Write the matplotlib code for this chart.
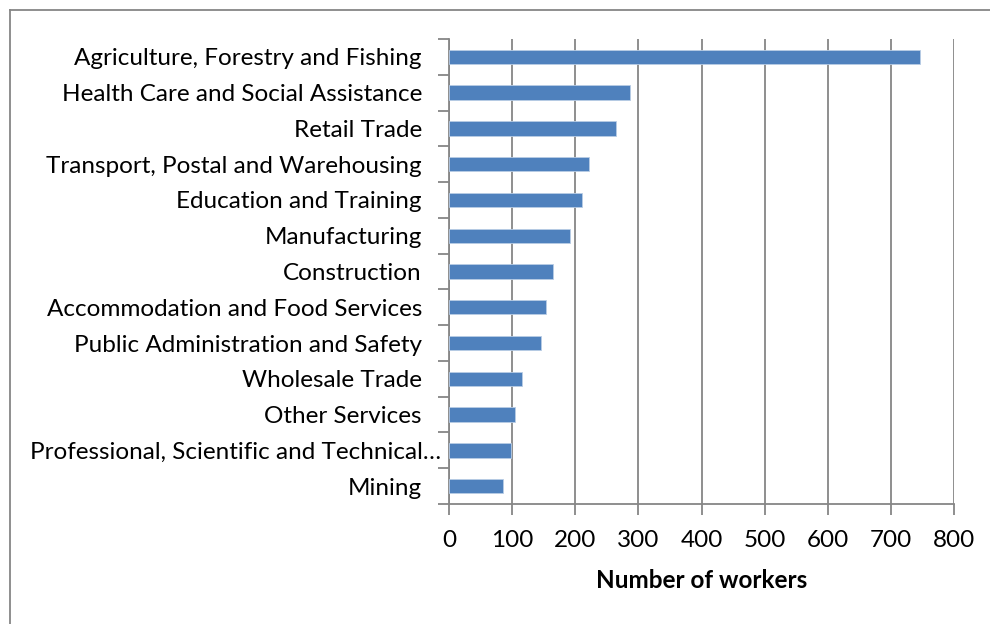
import matplotlib
matplotlib.use("Agg")
import matplotlib.pyplot as plt
from matplotlib.lines import Line2D
from matplotlib.transforms import ScaledTranslation
import numpy as np

plt.rcParams['font.family'] = ['Lato', 'DejaVu Sans']

industries = [
    "Agriculture, Forestry and Fishing",
    "Health Care and Social Assistance",
    "Retail Trade",
    "Transport, Postal and Warehousing",
    "Education and Training",
    "Manufacturing",
    "Construction",
    "Accommodation and Food Services",
    "Public Administration and Safety",
    "Wholesale Trade",
    "Other Services",
    "Professional, Scientific and Technical\u2026",
    "Mining",
]
workers = [746, 287, 265, 221, 210, 192, 164, 153, 146, 116, 105, 99, 85]
x_ticks = [0, 100, 200, 300, 400, 500, 600, 700, 800]

W, H = 990, 624
fig = plt.figure(figsize=(W / 100, H / 100), dpi=100)
ax = fig.add_axes([449 / W, 1 - 504 / H, (954 - 449) / W, (504 - 39) / H])

grey = "#868686"
n = len(industries)
ypos = np.arange(n)[::-1]
ax.barh(ypos, workers, height=0.4, color="#4F81BD", edgecolor="#B9CDE5",
        linewidth=0.6, zorder=3)

ax.set_xlim(0, 800)
ax.set_ylim(-0.5, n - 0.5)
ax.set_xticks(x_ticks)
ax.set_xticklabels([str(v) for v in x_ticks])
ax.set_yticks(ypos)
ax.set_yticklabels(industries)
ax.set_yticks(np.arange(-0.5, n, 1.0), minor=True)

ax.grid(axis="x", color=grey, linewidth=1.3, zorder=0)
for side in ("top", "right"):
    ax.spines[side].set_visible(False)
for side in ("left", "bottom"):
    ax.spines[side].set_color(grey)
    ax.spines[side].set_linewidth(1.3)

ax.tick_params(axis="y", which="major", length=0, pad=19.5, labelsize=17.5,
               labelcolor="black")
ax.tick_params(axis="y", which="minor", length=8, width=1.3, color=grey)
ax.tick_params(axis="x", which="major", length=8, width=1.3, color=grey,
               pad=11, labelsize=17.5, labelcolor="black")

# the truncated label sits closer to the axis
for lbl in ax.get_yticklabels():
    if lbl.get_text().endswith("\u2026"):
        lbl.set_transform(lbl.get_transform()
                          + ScaledTranslation(19 / 100, 0, fig.dpi_scale_trans))

ax.set_xlabel("Number of workers", fontsize=17.5, fontweight="bold",
              labelpad=12.5)

# chart area border
fig.add_artist(Line2D([9.5 / W, 9.5 / W], [0, 1 - 9.5 / H], color=grey,
                      linewidth=1.3, transform=fig.transFigure))
fig.add_artist(Line2D([9.5 / W, 1], [1 - 9.5 / H, 1 - 9.5 / H], color=grey,
                      linewidth=1.3, transform=fig.transFigure))

fig.savefig("out.png", dpi=100)
